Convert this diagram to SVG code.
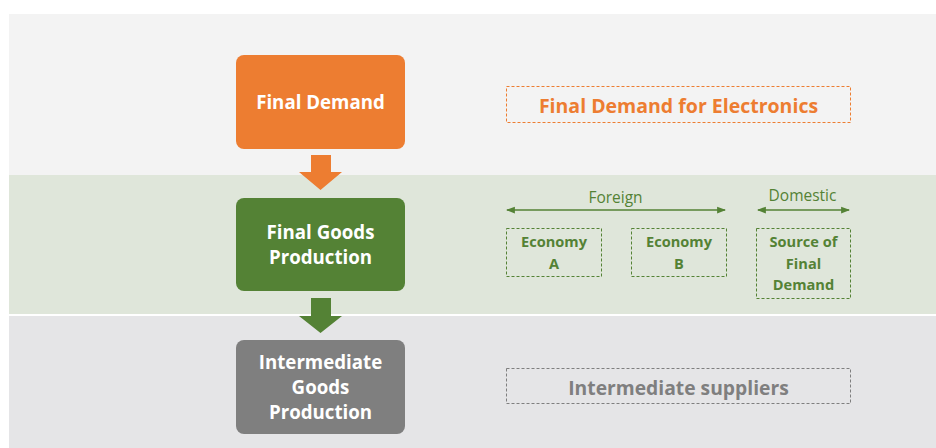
<svg xmlns="http://www.w3.org/2000/svg" width="936" height="448" viewBox="0 0 936 448">
<defs>
<style>
.node text{font-family:"Open Sans","Liberation Sans",sans-serif;font-weight:bold;text-anchor:middle;dominant-baseline:central}
.big{fill:#ffffff;font-size:18.7px}
.dash{fill:none;stroke-width:1;stroke-dasharray:3 2}
.lbl{font-family:"Open Sans","Liberation Sans",sans-serif;font-size:15.5px;fill:#548235;text-anchor:middle;dominant-baseline:central}
.small{fill:#548235;font-size:14.6px}
</style>
<marker id="ah" viewBox="0 0 8 8" refX="7" refY="4" markerWidth="6" markerHeight="6" orient="auto-start-reverse">
<path d="M0,1 L8,4 L0,7 Z" fill="#548235"/>
</marker>
</defs>
<rect x="0" y="0" width="936" height="448" fill="#ffffff"/>
<rect x="9" y="14" width="927" height="161" fill="#f3f3f3"/>
<rect x="9" y="175" width="927" height="139" fill="#dfe6da"/>
<rect x="9" y="316" width="927" height="132" fill="#e5e5e7"/>

<g id="connectors">
<path d="M311,155 H331 V172 H342 L320.5,190 L299,172 H311 Z" fill="#ed7d31"/>
<path d="M311,298 H331 V316 H342 L320.5,333 L299,316 H311 Z" fill="#548235"/>
<line x1="507" y1="210" x2="725" y2="210" stroke="#548235" stroke-width="1.5" marker-start="url(#ah)" marker-end="url(#ah)"/>
<line x1="758" y1="210" x2="849" y2="210" stroke="#548235" stroke-width="1.5" marker-start="url(#ah)" marker-end="url(#ah)"/>
<text class="lbl" x="615.5" y="197">Foreign</text>
<text class="lbl" x="802.5" y="195">Domestic</text>
</g>

<g id="final-demand" class="node">
<rect x="236" y="55" width="169" height="94" rx="8" fill="#ed7d31"/>
<text class="big" x="320.5" y="101">Final Demand</text>
</g>
<g id="final-goods" class="node">
<rect x="236" y="198" width="169" height="93" rx="8" fill="#548235"/>
<text class="big" x="320.5" y="231">Final Goods</text>
<text class="big" x="320.5" y="256">Production</text>
</g>
<g id="intermediate-goods" class="node">
<rect x="236" y="340" width="169" height="94" rx="8" fill="#7f7f7f"/>
<text class="big" x="320.5" y="361">Intermediate</text>
<text class="big" x="320.5" y="386">Goods</text>
<text class="big" x="320.5" y="411">Production</text>
</g>

<g id="final-demand-electronics" class="node">
<rect class="dash" x="506.5" y="86.5" width="344" height="36" stroke="#ed7d31"/>
<text x="678.5" y="105" style="fill:#ed7d31;font-size:19.5px">Final Demand for Electronics</text>
</g>
<g id="economy-a" class="node">
<rect class="dash" x="506.5" y="228.5" width="95" height="48" stroke="#548235"/>
<text class="small" x="554" y="241">Economy</text>
<text class="small" x="554" y="263">A</text>
</g>
<g id="economy-b" class="node">
<rect class="dash" x="631.5" y="228.5" width="95" height="48" stroke="#548235"/>
<text class="small" x="679" y="241">Economy</text>
<text class="small" x="679" y="263">B</text>
</g>
<g id="source-final-demand" class="node">
<rect class="dash" x="756.5" y="228.5" width="94" height="70" stroke="#548235"/>
<text class="small" x="803.5" y="241">Source of</text>
<text class="small" x="803.5" y="263">Final</text>
<text class="small" x="803.5" y="284">Demand</text>
</g>
<g id="intermediate-suppliers" class="node">
<rect class="dash" x="506.5" y="368.5" width="344" height="35" stroke="#7f7f7f"/>
<text x="678.5" y="387" style="fill:#7f7f7f;font-size:19.3px">Intermediate suppliers</text>
</g>
</svg>
